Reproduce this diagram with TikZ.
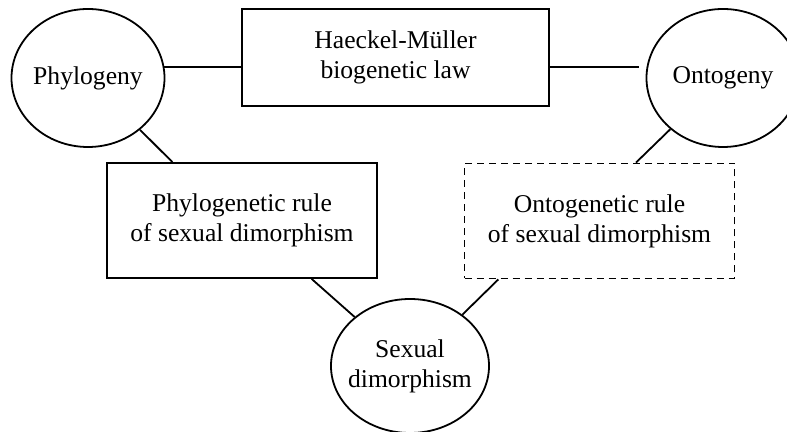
\documentclass[tikz,border=0pt]{standalone}
\usepackage{fontspec}
\setmainfont{Liberation Serif}
\usepackage{tikz}
\usetikzlibrary{
  shapes.geometric
}
\tikzset{
  txt/.style={ font=\fontsize{12.8}{15}\selectfont },
  oval/.style={
    ellipse,
    draw=black,
    line width=0.9pt,
    minimum width=76.5pt,
    minimum height=69pt,
    inner sep=-3pt,
    align=center,
    txt
  },
  lawbox/.style={
    rectangle,
    draw=black,
    line width=0.9pt,
    minimum width=153.5pt,
    minimum height=48.5pt,
    align=center,
    txt
  },
  rulebox/.style={
    rectangle,
    draw=black,
    line width=0.9pt,
    minimum width=135pt,
    minimum height=57.5pt,
    align=center,
    txt
  },
  dashbox/.style={
    rulebox,
    dash pattern=on 3.5pt off 2.5pt
  },
  link/.style={
    line width=0.9pt,
    draw=black
  }
}
\begin{document}
\begin{tikzpicture}[x=0.5pt,y=0.5pt]
\useasboundingbox (0,0) rectangle (787,432);
\begin{scope}
\clip (0,0) rectangle (787,432);

% top row
\node[oval] (phylogeny) at (88,354) {Phylogeny};
\node[lawbox] (haeckel) at (395.5,374.5) {Haeckel-Müller\\biogenetic law};
\node[oval] (ontogeny) at (723,354) {Ontogeny};

% rules
\node[rulebox] (phyrule) at (242,211.5) {Phylogenetic rule\\of sexual dimorphism};
\node[dashbox] (ontorule) at (599.5,211) {Ontogenetic rule\\of sexual dimorphism};

% bottom
\node[oval, minimum height=67pt] (sexual) at (410,66) {Sexual\\dimorphism};

% connectors
\draw[link] (phylogeny.8) -- (phylogeny.8 -| haeckel.west);
\draw[link, shorten <=4pt] (ontogeny.172) -- (ontogeny.172 -| haeckel.east);
\draw[link] (phylogeny) -- (phyrule.140);
\draw[link] (ontogeny) -- (ontorule.58);
\draw[link] (phyrule.-40) -- (sexual);
\draw[link] (ontorule.-150) -- (sexual);
\end{scope}
\end{tikzpicture}
\end{document}
